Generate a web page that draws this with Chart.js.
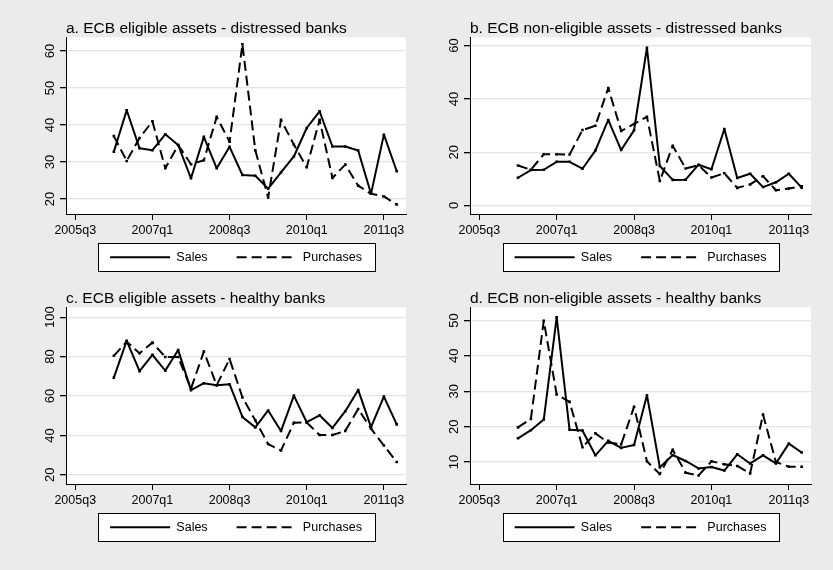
<!DOCTYPE html>
<html><head><meta charset="utf-8">
<script src="https://cdn.jsdelivr.net/npm/chart.js@4.4.1/dist/chart.umd.min.js"></script>
<style>
html,body{margin:0;padding:0;background:#ebebeb;}
#wrap{position:relative;width:833px;height:570px;background:#ebebeb;overflow:hidden;}
canvas{position:absolute;}
</style></head><body>
<div id="wrap">
<canvas id="ca" width="416" height="280" style="left:0;top:0"></canvas>
<canvas id="cb" width="417" height="280" style="left:416px;top:0"></canvas>
<canvas id="cc" width="416" height="280" style="left:0;top:270px"></canvas>
<canvas id="cd" width="417" height="280" style="left:416px;top:270px"></canvas>
</div>
<script>
// ---------------- data ----------------
const quarters = ['2006q2','2006q3','2006q4','2007q1','2007q2','2007q3','2007q4','2008q1',
  '2008q2','2008q3','2008q4','2009q1','2009q2','2009q3','2009q4','2010q1','2010q2','2010q3',
  '2010q4','2011q1','2011q2','2011q3','2011q4'];
const xTickValues = [0, 6, 12, 18, 24];
const xTickLabels = ['2005q3', '2007q1', '2008q3', '2010q1', '2011q3'];
const seriesNames = ['Sales', 'Purchases'];
const panelTitles = [
  'a. ECB eligible assets - distressed banks',
  'b. ECB non-eligible assets - distressed banks',
  'c. ECB eligible assets - healthy banks',
  'd. ECB non-eligible assets - healthy banks'
];
const salesA = [32.8, 44.0, 33.7, 33.2, 37.5, 34.6, 25.6, 36.8, 28.3, 34.1, 26.5, 26.3, 22.8, 27.2, 31.5, 39.2, 43.7, 34.2, 34.2, 33.1, 21.4, 37.4, 27.5];
const purchA = [37.0, 30.3, 36.5, 41.0, 28.3, 34.6, 29.4, 30.5, 42.2, 35.5, 61.8, 33.2, 20.4, 41.4, 34.7, 28.6, 41.4, 25.7, 29.3, 23.6, 21.4, 20.7, 18.5];
const salesB = [10.4, 13.3, 13.4, 16.4, 16.4, 13.8, 20.6, 32.1, 20.8, 28.2, 59.2, 14.8, 9.6, 9.7, 15.3, 13.6, 28.7, 10.3, 11.9, 6.9, 8.7, 11.9, 6.7];
const purchB = [15.0, 13.4, 19.2, 19.2, 19.1, 28.3, 29.9, 44.1, 28.0, 30.6, 33.3, 9.2, 22.4, 13.9, 15.1, 10.5, 12.1, 6.6, 7.9, 11.0, 5.7, 6.4, 7.2];
const salesC = [69.3, 88.0, 72.6, 80.9, 72.9, 83.4, 63.0, 66.5, 65.5, 66.0, 49.4, 44.1, 52.7, 42.2, 60.2, 46.7, 50.2, 43.8, 52.3, 63.1, 44.2, 59.7, 45.6];
const purchC = [80.4, 87.6, 81.7, 87.1, 79.8, 79.8, 63.8, 82.6, 65.5, 78.8, 59.3, 47.7, 35.6, 32.4, 46.4, 46.6, 40.2, 40.2, 42.3, 53.4, 43.5, 34.9, 26.5];
const salesD = [16.7, 19.0, 22.0, 50.9, 19.1, 18.9, 11.9, 16.0, 14.0, 14.8, 28.9, 8.5, 12.0, 10.3, 8.2, 8.6, 7.6, 12.2, 9.6, 11.9, 9.6, 15.2, 12.7];
const purchD = [19.8, 22.2, 49.9, 29.1, 27.0, 14.2, 18.1, 15.5, 15.0, 25.6, 10.2, 6.6, 13.5, 7.0, 6.2, 10.2, 9.4, 8.9, 6.8, 23.4, 10.0, 8.7, 8.7];
const yTicksA = [20, 30, 40, 50, 60];
const yTicksB = [0, 20, 40, 60];
const yTicksC = [20, 40, 60, 80, 100];
const yTicksD = [10, 20, 30, 40, 50];

// ---------------- rendering ----------------
const FONT = "'Liberation Sans', Arial, Helvetica, sans-serif";
function quarterIndex(q) {
  const y = +q.slice(0, 4), n = +q.slice(5);
  return (y - 2005) * 4 + (n - 3);
}

const stataPlugin = {
  id: 'stataPanel',
  afterLayout(chart) {
    // let the x tick labels draw below the (deliberately short) x-axis box
    const xs = chart.scales.x;
    xs.bottom = xs.top + 30;
  },
  beforeDraw(chart) {
    const ctx = chart.ctx, a = chart.chartArea;
    ctx.save();
    ctx.fillStyle = '#ffffff';
    ctx.fillRect(a.left, a.top, a.right - a.left, a.bottom - a.top);
    const lg = chart.legend;
    if (lg && lg.legendHitBoxes && lg.legendHitBoxes.length) {
      const hb = lg.legendHitBoxes;
      const l = Math.round(Math.min(...hb.map(h => h.left)) - 12);
      const r = Math.round(Math.max(...hb.map(h => h.left + h.width)) + 13);
      const cy = Math.round(hb[0].top + hb[0].height / 2);
      ctx.fillRect(l, cy - 14, r - l, 28);
      ctx.strokeStyle = '#000';
      ctx.lineWidth = 1;
      ctx.strokeRect(l + 0.5, cy - 14 + 0.5, r - l, 28);
    }
    ctx.restore();
  },
  afterDraw(chart) {
    const ys = chart.scales.y, a = chart.chartArea, ctx = chart.ctx;
    ctx.save();
    ctx.fillStyle = '#000';
    ctx.font = '13px ' + FONT;
    ctx.textAlign = 'center';
    ctx.textBaseline = 'middle';
    ys.ticks.forEach(t => {
      const py = ys.getPixelForValue(t.value);
      ctx.save();
      ctx.translate(a.left - 16, py);
      ctx.rotate(-Math.PI / 2);
      ctx.fillText(String(t.value), 0, 0);
      ctx.restore();
    });
    ctx.restore();
  }
};

function makePanel(id, title, sales, purch, yTicks, yMin, yMax, axisWidth, padRight) {
  const series = [sales, purch];
  const datasets = series.map((vals, k) => ({
    label: seriesNames[k],
    data: quarters.map((q, i) => ({x: quarterIndex(q), y: vals[i]})),
    borderColor: '#000',
    backgroundColor: '#000',
    borderWidth: 2,
    borderDash: k === 1 ? [10, 5] : [],
    borderJoinStyle: 'round',
    pointStyle: 'rect',
    pointRadius: 1.8,
    pointBorderWidth: 0,
    tension: 0
  }));
  new Chart(document.getElementById(id), {
    type: 'line',
    data: {datasets},
    options: {
      responsive: false,
      animation: false,
      events: [],
      layout: {padding: {top: 20, bottom: 6.5, left: 0, right: padRight}},
      scales: {
        x: {
          type: 'linear', min: -0.72, max: 25.72,
          afterBuildTicks: s => { s.ticks = xTickValues.map(v => ({value: v})); },
          afterFit: s => { s.height = 8; },
          ticks: {
            autoSkip: false, maxRotation: 0, minRotation: 0, padding: 3, color: '#000',
            font: {family: FONT, size: 12.5},
            callback: v => { const k = xTickValues.indexOf(v); return k >= 0 ? xTickLabels[k] : ''; }
          },
          grid: {drawOnChartArea: false, drawTicks: true, tickLength: 6, color: '#000', lineWidth: 1},
          border: {display: true, color: '#000', width: 1}
        },
        y: {
          type: 'linear', min: yMin, max: yMax,
          afterBuildTicks: s => { s.ticks = yTicks.map(v => ({value: v})); },
          afterFit: s => { s.width = axisWidth; },
          ticks: {display: false},
          grid: {color: '#e4e4e4', lineWidth: 1.3, tickColor: '#000', tickLength: 6, drawTicks: true},
          border: {display: true, color: '#000', width: 1}
        }
      },
      plugins: {
        tooltip: {enabled: false},
        title: {
          display: true, text: title, align: 'start', fullSize: false, color: '#000',
          font: {family: FONT, size: 15.5, weight: 'normal', lineHeight: 1.12},
          padding: {top: 0, bottom: 0}
        },
        legend: {
          display: true, position: 'bottom', align: 'center', fullSize: false,
          labels: {
            usePointStyle: true, pointStyle: 'line', pointStyleWidth: 60,
            padding: 29, color: '#000',
            font: {family: FONT, size: 12.5},
            generateLabels: chart => chart.data.datasets.map((ds, i) => ({
              text: ds.label, fillStyle: ds.borderColor, strokeStyle: ds.borderColor,
              lineWidth: ds.borderWidth, lineDash: ds.borderDash, pointStyle: 'line',
              hidden: false, datasetIndex: i, fontColor: '#000'
            }))
          }
        }
      }
    },
    plugins: [stataPlugin]
  });
}

makePanel('ca', panelTitles[0], salesA, purchA, yTicksA, 15.95, 63.7, 66, 10);
makePanel('cb', panelTitles[1], salesB, purchB, yTicksB, -3.2, 63.1, 54, 22);
makePanel('cc', panelTitles[2], salesC, purchC, yTicksC, 15.35, 105, 66, 10);
makePanel('cd', panelTitles[3], salesD, purchD, yTicksD, 3.8, 53.7, 54, 22);
</script>
</body></html>
